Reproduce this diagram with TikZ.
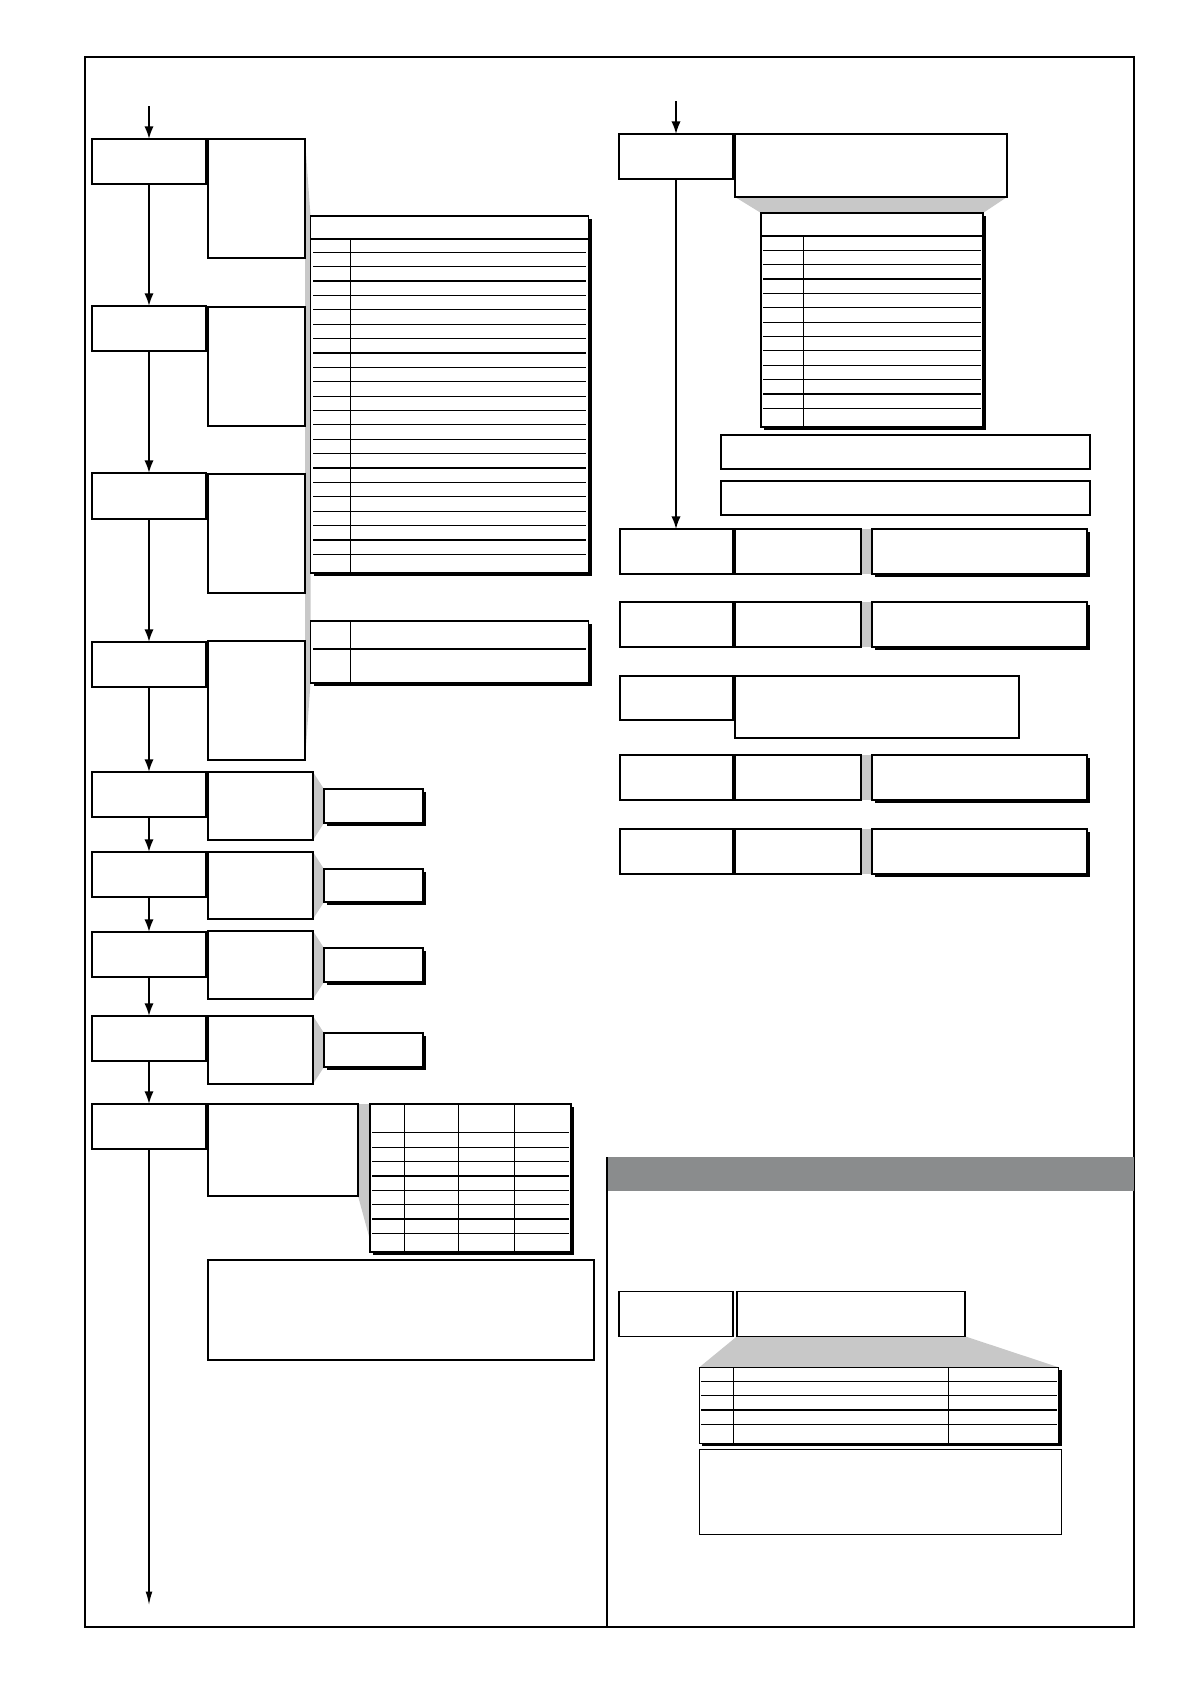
\documentclass[tikz,border=0pt]{standalone}
\usetikzlibrary{arrows.meta, fit, backgrounds}
\definecolor{funnelgray}{RGB}{200,200,200}
\definecolor{bargray}{RGB}{138,140,141}
\tikzset{
  stepbox/.style={draw, line width=1pt, fill=white, inner sep=0pt, outer sep=0pt},
  flow/.style={line width=1.7pt, -{Latex[length=9.5pt,width=7pt]}},
  funnel/.style={fill=funnelgray, draw=none},
  rule/.style={line width=0.9pt},
  headrule/.style={line width=1.5pt}
}
\newcommand{\shadowof}[1]{\fill[black] ([shift={(3,3)}]#1.north west) rectangle ([shift={(3,3)}]#1.south east);}

\begin{document}
\begin{tikzpicture}[x=0.75pt,y=0.75pt,yscale=-1,xscale=1]
\useasboundingbox (0,0) rectangle (1191,1684);

% outer frame
\draw[line width=1.4pt] (85,57) rectangle (1134,1627);

% left column: steps
\foreach \n/\ya/\yb in {1/139/184, 2/306/351, 3/473/519, 4/642/687, 5/772/817, 6/852/897, 7/932/977, 8/1016/1061, 9/1104/1149}
  \node[stepbox, fit={(92,\ya) (206,\yb)}] (s\n) {};
% left column: descriptions
\foreach \n/\ya/\yb in {1/139/258, 2/307/426, 3/474/593, 4/641/760}
  \node[stepbox, fit={(208,\ya) (305,\yb)}] (d\n) {};
\foreach \n/\ya/\yb in {5/772/840, 6/852/919, 7/931/999, 8/1016/1084}
  \node[stepbox, fit={(208,\ya) (313,\yb)}] (d\n) {};
\node[stepbox, fit={(208,1104) (358,1196)}] (d9) {};
% left column: results
\foreach \n/\ya/\yb in {5/789/823, 6/869/902, 7/948/982, 8/1033/1067}
  \node[stepbox, fit={(324,\ya) (423,\yb)}] (r\n) {};

% big table
\node[stepbox, fit={(310.5,216) (588.5,573)}] (t1) {};
\draw[headrule] (310.5,238.7) -- (588.5,238.7);
\draw[rule] (350.3,238.7) -- (350.3,573);
\foreach \k in {0,...,21}
  \draw[rule] (313,{252.3+\k*14.38}) -- (586,{252.3+\k*14.38});
% small table
\node[stepbox, fit={(310.5,621) (588.5,683)}] (t2) {};
\draw[rule] (313,649) -- (586,649);
\draw[rule] (350.3,621) -- (350.3,683);

% four column table
\node[stepbox, fit={(370,1104) (571,1252)}] (t5) {};
\draw[rule] (372,1132.3) -- (569,1132.3);
\foreach \x in {404.3, 458.3, 514.3}
  \draw[rule] (\x,1104) -- (\x,1252);
\foreach \k in {0,...,6}
  \draw[rule] (372,{1147.3+\k*14.33}) -- (569,{1147.3+\k*14.33});
\coordinate (t5tip) at (370,1240);
\node[stepbox, fit={(208,1260) (594,1360)}] (n1) {};

% right column: top
\node[stepbox, fit={(619,134) (733,179)}] (q1) {};
\node[stepbox, fit={(735,134) (1007,197)}] (w1) {};
\node[stepbox, fit={(761,213) (983,427)}] (t3) {};
\draw[headrule] (761,236.3) -- (983,236.3);
\draw[rule] (803.3,236.3) -- (803.3,427);
\foreach \k in {0,...,11}
  \draw[rule] (763,{250.3+\k*14.36}) -- (981,{250.3+\k*14.36});
\node[stepbox, fit={(721,435) (1090,469)}] (na) {};
\node[stepbox, fit={(721,481) (1090,515)}] (nb) {};

% right column: rows
\foreach \n/\ya/\yb in {2/529/574, 3/602/647, 5/755/800, 6/829/874}{
  \node[stepbox, fit={(620,\ya) (733,\yb)}] (q\n) {};
  \node[stepbox, fit={(735,\ya) (861,\yb)}] (m\n) {};
  \node[stepbox, fit={(872,\ya) (1087,\yb)}] (o\n) {};
}
\node[stepbox, fit={(620,676) (733,720)}] (q4) {};
\node[stepbox, fit={(735,676) (1019,738)}] (w4) {};

% lower right panel
\fill[bargray] (607,1157) rectangle (1134,1191);
\draw[line width=0.8pt] (607,1157) -- (607,1627);
\node[stepbox, fit={(619,1291.3) (733,1336.3)}] (q7) {};
\node[stepbox, fit={(737,1291.3) (965,1336.3)}] (w7) {};
\node[stepbox, fit={(699.3,1367.3) (1058.7,1443.3)}] (t4) {};
\foreach \x in {733.3, 948.7}
  \draw[rule] (\x,1367.3) -- (\x,1443.3);
\foreach \k in {0,...,3}
  \draw[rule] (701,{1381.3+\k*14.33}) -- (1056.5,{1381.3+\k*14.33});
\node[stepbox, fit={(699.3,1449.3) (1061.7,1534.3)}] (n2) {};

% flow arrows
\coordinate (inL) at (149,106);
\coordinate (outL) at (149,1605);
\coordinate (inR) at (676,101);
\draw[flow] (inL) -- (s1);
\foreach \a/\b in {1/2, 2/3, 3/4, 4/5, 5/6, 6/7, 7/8, 8/9}
  \draw[flow] (s\a) -- (s\b);
\draw[flow, line width=1pt, -{Latex[length=10pt,width=5pt]}] (s9) -- (outL);
\draw[flow, line width=1.3pt] (inR) -- (q1);
\draw[flow, line width=1.3pt] (q1.south) -- (q1.south |- q2.north);

% shading and shadows
\begin{pgfonlayer}{background}
\fill[funnel] (d1.north east) -- (t1.north west) -- (t2.south west) -- (d4.south east) -- cycle;
\foreach \n in {5,6,7,8}
  \fill[funnel] (d\n.north east) -- (r\n.north west) -- (r\n.south west) -- (d\n.south east) -- cycle;
\fill[funnel] (d9.north east) -- (t5.north west) -- (t5tip) -- (d9.south east) -- cycle;
\fill[funnel] (w1.south west) -- (w1.south east) -- (t3.north east) -- (t3.north west) -- cycle;
\fill[funnel] (w7.south west) -- (w7.south east) -- (t4.north east) -- (t4.north west) -- cycle;
\foreach \n in {2,3,5,6}
  \fill[funnel] (m\n.north east) rectangle (o\n.south west);
\foreach \n in {r5,r6,r7,r8,t1,t2,t3,t4,t5,o2,o3,o5,o6}
  {\shadowof{\n}}
\end{pgfonlayer}
\end{tikzpicture}
\end{document}
